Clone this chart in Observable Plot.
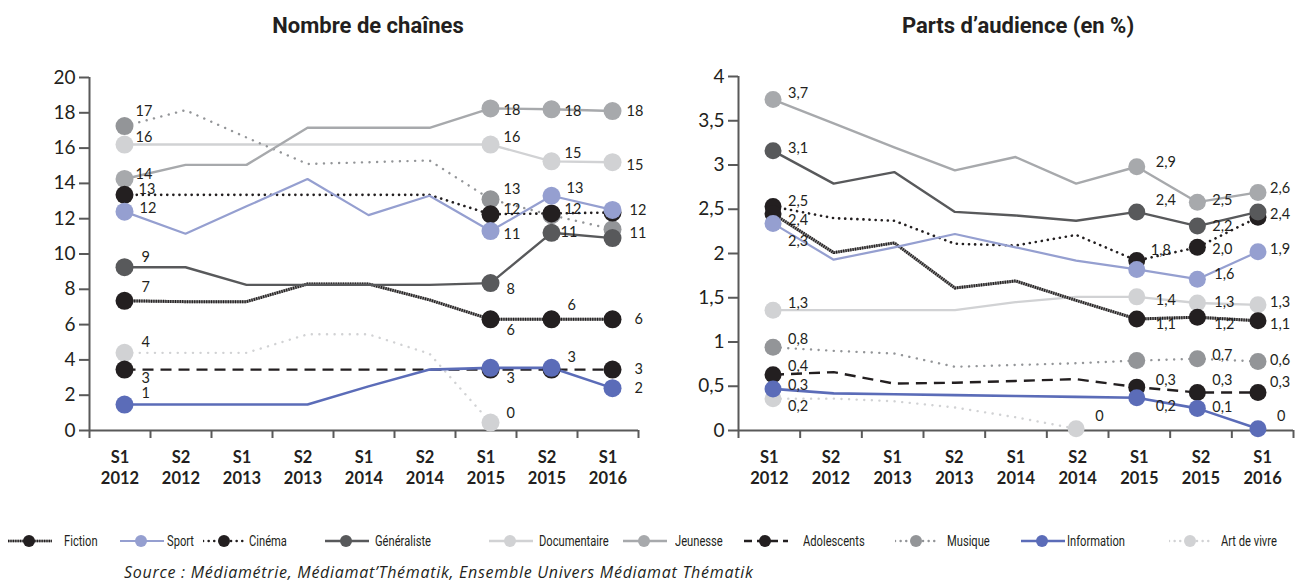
<!DOCTYPE html>
<html><head><meta charset="utf-8">
<script src="https://cdn.jsdelivr.net/npm/d3@7"></script>
<script src="https://cdn.jsdelivr.net/npm/@observablehq/plot@0.6"></script>
<style>
body{margin:0;background:#fff;width:1295px;height:581px;position:relative;overflow:hidden;font-family:Lato,"Open Sans",sans-serif;color:#231f20}
.title{position:absolute;top:13px;font-family:Roboto,sans-serif;font-weight:bold;font-size:22px;transform:translateX(-50%);white-space:nowrap;color:#231f20}
.chart{position:absolute;top:50px}
.leg{position:absolute;top:532px;height:18px}
.leg svg{position:absolute;left:0;top:0}
.leg span{position:absolute;top:0;line-height:18px;font-family:Roboto,sans-serif;font-size:15.5px;white-space:nowrap;color:#231f20;transform:scaleX(0.72);transform-origin:0 50%}
.source{position:absolute;left:124px;top:561px;font-family:"Open Sans",sans-serif;font-style:italic;font-size:16px;letter-spacing:0.72px;color:#231f20;white-space:nowrap}
</style></head>
<body>
<div class="title" style="left:368px">Nombre de chaînes</div>
<div class="title" style="left:1018px">Parts d’audience (en %)</div>
<div id="left" class="chart" style="left:0px"></div>
<div id="right" class="chart" style="left:650px"></div>
<div id="legend"></div>
<div class="source"></div>
<script>
// ---------- DATA ----------
const periods = ["S1\n2012","S2\n2012","S1\n2013","S2\n2013","S1\n2014","S2\n2014","S1\n2015","S2\n2015","S1\n2016"];
const seriesNames = ["Fiction","Sport","Cinéma","Généraliste","Documentaire","Jeunesse","Adolescents","Musique","Information","Art de vivre"];

// Nombre de chaînes (values as plotted)
const chainesFiction      = [7.35, 7.3, 7.3, 8.3, 8.3, 7.4, 6.3, 6.3, 6.3];
const chainesSport        = [12.4, 11.15, 12.7, 14.25, 12.2, 13.3, 11.3, 13.3, 12.5];
const chainesCinema       = [13.35, 13.35, 13.35, 13.35, 13.35, 13.35, 12.25, 12.3, 12.35];
const chainesGeneraliste  = [9.25, 9.25, 8.25, 8.25, 8.25, 8.25, 8.35, 11.2, 10.9];
const chainesDocumentaire = [16.2, 16.2, 16.2, 16.2, 16.2, 16.2, 16.2, 15.25, 15.2];
const chainesJeunesse     = [14.25, 15.05, 15.05, 17.15, 17.15, 17.15, 18.25, 18.2, 18.1];
const chainesAdolescents  = [3.45, 3.45, 3.45, 3.45, 3.45, 3.45, 3.45, 3.45, 3.45];
const chainesMusique      = [17.25, 18.15, 16.6, 15.1, 15.2, 15.3, 13.1, 12.2, 11.4];
const chainesInformation  = [1.47, 1.47, 1.47, 1.47, 2.5, 3.45, 3.55, 3.55, 2.4];
const chainesArtDeVivre   = [4.4, 4.4, 4.4, 5.45, 5.45, 4.35, 0.45, null, null];

// Parts d'audience (en %)
const audFiction      = [2.45, 2.01, 2.12, 1.61, 1.69, 1.47, 1.26, 1.28, 1.24];
const audSport        = [2.34, 1.93, 2.07, 2.22, 2.07, 1.92, 1.82, 1.71, 2.02];
const audCinema       = [2.53, 2.40, 2.37, 2.11, 2.09, 2.21, 1.92, 2.07, 2.41];
const audGeneraliste  = [3.16, 2.79, 2.92, 2.47, 2.43, 2.37, 2.47, 2.31, 2.47];
const audDocumentaire = [1.36, 1.36, 1.36, 1.36, 1.45, 1.51, 1.51, 1.44, 1.42];
const audJeunesse     = [3.74, 3.47, 3.20, 2.94, 3.09, 2.79, 2.98, 2.58, 2.69];
const audAdolescents  = [0.63, 0.66, 0.53, 0.54, 0.56, 0.58, 0.49, 0.43, 0.43];
const audMusique      = [0.94, 0.90, 0.87, 0.72, 0.74, 0.76, 0.79, 0.81, 0.78];
const audInformation  = [0.47, 0.42, 0.41, 0.40, 0.39, 0.38, 0.37, 0.25, 0.02];
const audArtDeVivre   = [0.36, 0.36, 0.33, 0.26, 0.15, 0.02, null, null, null];

const yTicksChaines = [0,2,4,6,8,10,12,14,16,18,20];
const yTicksAudience = [0,0.5,1,1.5,2,2.5,3,3.5,4];
const sourceText = "Source : Médiamétrie, Médiamat’Thématik, Ensemble Univers Médiamat Thématik";

// data label texts: [series, period index, text]
const labelsChaines = [
 ["Musique",0,"17"],["Documentaire",0,"16"],["Jeunesse",0,"14"],["Cinéma",0,"13"],["Sport",0,"12"],
 ["Généraliste",0,"9"],["Fiction",0,"7"],["Art de vivre",0,"4"],["Adolescents",0,"3"],["Information",0,"1"],
 ["Jeunesse",6,"18"],["Documentaire",6,"16"],["Musique",6,"13"],["Cinéma",6,"12"],["Sport",6,"11"],
 ["Généraliste",6,"8"],["Fiction",6,"6"],["Adolescents",6,"3"],["Art de vivre",6,"0"],
 ["Jeunesse",7,"18"],["Documentaire",7,"15"],["Sport",7,"13"],["Cinéma",7,"12"],["Généraliste",7,"11"],
 ["Fiction",7,"6"],["Information",7,"3"],
 ["Jeunesse",8,"18"],["Documentaire",8,"15"],["Sport",8,"12"],["Musique",8,"11"],
 ["Fiction",8,"6"],["Adolescents",8,"3"],["Information",8,"2"]
];
const labelsAudience = [
 ["Jeunesse",0,"3,7"],["Généraliste",0,"3,1"],["Cinéma",0,"2,5"],["Fiction",0,"2,4"],["Sport",0,"2,3"],
 ["Documentaire",0,"1,3"],["Musique",0,"0,8"],["Adolescents",0,"0,4"],["Information",0,"0,3"],["Art de vivre",0,"0,2"],
 ["Art de vivre",5,"0"],
 ["Jeunesse",6,"2,9"],["Généraliste",6,"2,4"],["Cinéma",6,"1,8"],["Documentaire",6,"1,4"],["Fiction",6,"1,1"],
 ["Adolescents",6,"0,3"],["Information",6,"0,2"],
 ["Jeunesse",7,"2,5"],["Généraliste",7,"2,2"],["Cinéma",7,"2,0"],["Sport",7,"1,6"],["Documentaire",7,"1,3"],
 ["Fiction",7,"1,2"],["Musique",7,"0,7"],["Adolescents",7,"0,3"],["Information",7,"0,1"],
 ["Jeunesse",8,"2,6"],["Généraliste",8,"2,4"],["Sport",8,"1,9"],["Documentaire",8,"1,3"],["Fiction",8,"1,1"],
 ["Musique",8,"0,6"],["Adolescents",8,"0,3"],["Information",8,"0"]
];

// ---------- LAYOUT / STYLE ----------
const chainesData = {"Fiction":chainesFiction,"Sport":chainesSport,"Cinéma":chainesCinema,"Généraliste":chainesGeneraliste,
 "Documentaire":chainesDocumentaire,"Jeunesse":chainesJeunesse,"Adolescents":chainesAdolescents,"Musique":chainesMusique,
 "Information":chainesInformation,"Art de vivre":chainesArtDeVivre};
const audData = {"Fiction":audFiction,"Sport":audSport,"Cinéma":audCinema,"Généraliste":audGeneraliste,
 "Documentaire":audDocumentaire,"Jeunesse":audJeunesse,"Adolescents":audAdolescents,"Musique":audMusique,
 "Information":audInformation,"Art de vivre":audArtDeVivre};

const style = {
 "Fiction":      {color:"#231f20", width:3,   dash:"1.2,1.2", under:"#8a8a8a"},
 "Sport":        {color:"#959fd0", width:2.2},
 "Cinéma":       {color:"#231f20", width:2.6, dash:"0.1,6", cap:"round"},
 "Généraliste":  {color:"#58595b", width:2.4},
 "Documentaire": {color:"#d1d2d4", width:2.4},
 "Jeunesse":     {color:"#a7a9ac", width:2.4},
 "Adolescents":  {color:"#231f20", width:2.4, dash:"11,7"},
 "Musique":      {color:"#939598", width:2.4, dash:"0.1,7.5", cap:"round"},
 "Information":  {color:"#5b6cb8", width:2.6},
 "Art de vivre": {color:"#d1d2d4", width:2.4, dash:"0.1,7.5", cap:"round"}
};
const drawOrder = ["Art de vivre","Documentaire","Musique","Jeunesse","Cinéma","Fiction","Adolescents","Généraliste","Sport","Information"];
const axisColor = "#595959";

// label offsets (px) — layout only, parallel to label arrays
const offChaines = [[11,-15],[11,-7],[11,-5],[14,-6],[15,-3],[17,-10],[17,-13],[17,-10],[17,9],[17,-11],
 [13,2],[13,-7],[13,-10],[13,-5],[13,3],[16,6],[16,11],[16,9],[16,-9],
 [13,2],[13,-8],[15,-7],[13,-4],[9,0],[16,-14],[16,-10],
 [14,0],[14,3],[17,0],[17,4],[22,0],[22,0],[22,0]];
const offAudience = [[15,-6],[15,-2],[15,-5],[15,7],[15,18],[15,-7],[15,-8],[15,-8],[15,-4],[15,8],
 [19,-12],
 [19,-4],[19,-12],[14,-10],[19,3],[19,5],[19,-7],[19,9],
 [15,-2],[15,0],[15,2],[17,-5],[17,-1],[17,7],[15,-3],[15,-12],[15,-1],
 [12,-4],[12,2],[12,-2],[12,-2],[12,4],[12,-1],[12,-10],[19,-12]];

function chart(cfg) {
  const px = i => cfg.x0 + i * cfg.xStep;
  const rows = drawOrder.map(name => ({name, pts: cfg.values[name].map((v,i)=>({name,i,v})).filter(d=>d.v!=null)}));
  const marks = [];
  marks.push(Plot.axisY({ticks: cfg.yTicks, tickSize: 10, tickPadding: 4, tickFormat: cfg.fmt, stroke: axisColor, strokeWidth: 2, fill:"#231f20", fontSize: 19, label: null}));
  marks.push(Plot.axisX({ticks: d3.range(10), tickSize: 8, tickFormat: () => "", stroke: axisColor, strokeWidth: 2, label: null}));
  marks.push(Plot.ruleX([0], {stroke: axisColor, strokeWidth: 2}));
  marks.push(Plot.ruleY([cfg.yDomain[0]], {stroke: axisColor, strokeWidth: 2}));
  marks.push(Plot.text(d3.range(9), {x: i => i + 0.5, frameAnchor: "bottom", text: i => periods[i], lineAnchor: "top", dy: 17, fontWeight: "bold", fontSize: 16.5, lineHeight: 1.3, fill:"#231f20"}));
  for (const {name, pts} of rows) {
    const s = style[name];
    if (s.under) marks.push(Plot.line(pts, {x: d=>px(d.i), y: "v", stroke: s.under, strokeWidth: s.width}));
    marks.push(Plot.line(pts, {x: d=>px(d.i), y: "v", stroke: s.color, strokeWidth: s.width, strokeDasharray: s.dash, strokeLinecap: s.cap || "butt"}));
  }
  for (const {name, pts} of rows) {
    const last = pts[pts.length-1].i;
    const mk = pts.filter(d => d.i === 0 || d.i >= 6 || d.i === last);
    marks.push(Plot.dot(mk, {x: d=>px(d.i), y: "v", r: cfg.r, fill: style[name].color, stroke: "none"}));
  }
  cfg.labels.forEach(([name, i, text], k) => {
    const [dx, dy] = cfg.offsets[k];
    marks.push(Plot.text([{i, v: cfg.values[name][i]}], {x: d=>px(d.i), y: "v", text: () => text, dx, dy, textAnchor: "start", fontSize: 14.5, fill: "#231f20"}));
  });
  return Plot.plot({
    width: cfg.width, height: 450,
    marginLeft: cfg.ml, marginRight: cfg.mr, marginTop: cfg.mt, marginBottom: 70,
    x: {domain: [0, 9]},
    y: {domain: cfg.yDomain},
    style: {fontFamily: "Lato, 'Open Sans', sans-serif", background: "transparent", color: "#231f20", overflow: "visible"},
    marks
  });
}

document.getElementById("left").append(chart({
  values: chainesData, yDomain: [0, 20], yTicks: yTicksChaines, fmt: d => String(d),
  labels: labelsChaines, offsets: offChaines, width: 650, ml: 89, mr: 12, mt: 27,
  x0: 0.574, xStep: 1.0, r: 9
}));
document.getElementById("right").append(chart({
  values: audData, yDomain: [0, 4], yTicks: yTicksAudience, fmt: d => String(d).replace(".", ","),
  labels: labelsAudience, offsets: offAudience, width: 645, ml: 88, mr: 2, mt: 26,
  x0: 0.56, xStep: 0.983, r: 8.5
}));

// ---------- LEGEND ----------
const legendMarkerX = [29, 141, 224, 346, 510, 644, 765, 916, 1042, 1190];
const legendTextX   = [64, 167, 249, 375, 539, 675, 803, 947, 1067, 1221];
const legend = document.getElementById("legend");
const ns = "http://www.w3.org/2000/svg";
seriesNames.forEach((name, k) => {
  const s = style[name];
  const left = legendMarkerX[k] - 21;
  const item = document.createElement("div");
  item.className = "leg";
  item.style.left = left + "px";
  const svg = document.createElementNS(ns, "svg");
  svg.setAttribute("width", 46); svg.setAttribute("height", 18);
  const mkLine = (stroke, w, dash, cap) => {
    const l = document.createElementNS(ns, "line");
    l.setAttribute("x1",0);l.setAttribute("x2",44);l.setAttribute("y1",9);l.setAttribute("y2",9);
    l.setAttribute("stroke", stroke); l.setAttribute("stroke-width", w);
    if (dash) l.setAttribute("stroke-dasharray", dash);
    if (cap) l.setAttribute("stroke-linecap", cap);
    svg.append(l);
  };
  if (s.under) mkLine(s.under, 2.5);
  const dash = s.dash ? (s.dash === "11,7" ? "8,5" : (s.dash.startsWith("0.1") ? "0.1,5.5" : s.dash)) : null;
  mkLine(s.color, Math.min(s.width, 2.5), dash, s.cap);
  const c = document.createElementNS(ns, "circle");
  c.setAttribute("cx", 21); c.setAttribute("cy", 9); c.setAttribute("r", 6); c.setAttribute("fill", s.color);
  svg.append(c);
  item.append(svg);
  const t = document.createElement("span");
  t.style.left = (legendTextX[k] - left) + "px";
  t.textContent = name;
  item.append(t);
  legend.append(item);
});
document.querySelector(".source").textContent = sourceText;
</script>
</body></html>
